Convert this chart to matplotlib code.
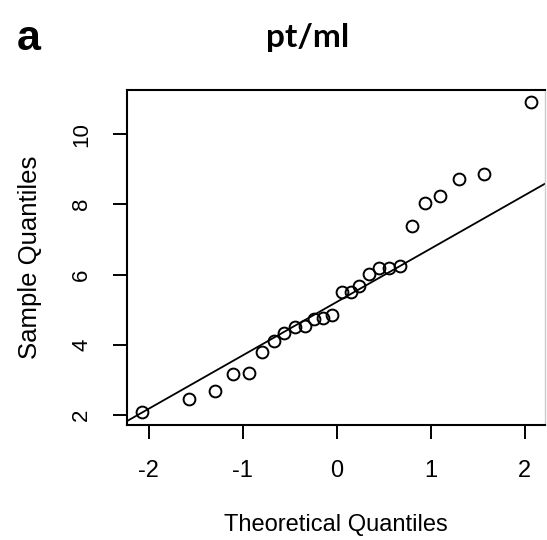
import matplotlib
matplotlib.use("Agg")
import matplotlib.pyplot as plt

# theoretical quantiles
theo_q = [-2.07, -1.57, -1.30, -1.10, -0.94, -0.80, -0.67, -0.56, -0.45,
          -0.34, -0.24, -0.15, -0.05, 0.05, 0.15, 0.24, 0.34, 0.45, 0.56,
          0.67, 0.80, 0.94, 1.10, 1.30, 1.57, 2.07]
# sample quantiles (pt/ml)
sample_q = [2.08, 2.45, 2.68, 3.16, 3.19, 3.79, 4.12, 4.33, 4.50, 4.54,
            4.72, 4.76, 4.86, 5.50, 5.50, 5.66, 6.01, 6.19, 6.19, 6.23,
            7.38, 8.05, 8.23, 8.71, 8.87, 10.91]
# reference line through the quartiles
line_intercept = 5.22
line_slope = 1.52

x_ticks = [-2, -1, 0, 1, 2]
y_ticks = [2, 4, 6, 8, 10]

plt.rcParams['font.family'] = ['Liberation Sans', 'DejaVu Sans']

fig = plt.figure(figsize=(5.47, 5.40), dpi=100)
ax = fig.add_axes([0.232, 0.213, 0.764, 0.620])

ax.plot(theo_q, sample_q, 'o', mfc='none', mec='black', ms=8.5, mew=1.4,
        clip_on=False, zorder=3)
ax.axline((0, line_intercept), slope=line_slope, color='black', lw=1.3)

ax.set_xlim(-2.234, 2.213)
ax.set_ylim(1.715, 11.25)
ax.set_xticks(x_ticks)
ax.set_xticklabels([str(t) for t in x_ticks])
ax.set_yticks(y_ticks)
ax.set_yticklabels([str(t) for t in y_ticks], rotation=90, va='center')

ax.tick_params(direction='out', length=10, width=1.4, labelsize=17, pad=15)
ax.tick_params(axis='y', labelsize=16)
for side in ['left', 'bottom', 'top']:
    ax.spines[side].set_linewidth(1.5)
ax.spines['right'].set_color('#cccccc')
ax.spines['right'].set_linewidth(1.0)

ax.set_xlabel('Theoretical Quantiles', fontsize=17, va='center')
ax.set_ylabel('Sample Quantiles', fontsize=18.5, va='center')
ax.xaxis.set_label_coords(0.5, -0.30)
ax.yaxis.set_label_coords(-0.232, 0.5)

fig.text(0.030, 0.928, 'a', fontsize=31, fontweight='bold',
         family=['Liberation Sans'], ha='left', va='center')
fig.text(0.563, 0.930, 'pt/ml', fontsize=24, fontweight='bold',
         family=['Lato', 'DejaVu Sans'], ha='center', va='center')

fig.savefig('out.png', dpi=100)
